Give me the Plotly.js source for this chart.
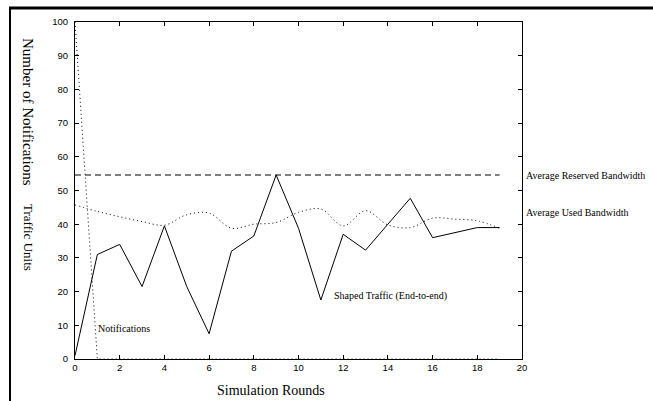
<!DOCTYPE html>
<html>
<head>
<meta charset="utf-8">
<script src="https://cdn.plot.ly/plotly-3.0.1.min.js"></script>
<style>html,body{margin:0;padding:0;background:#fff;}#chart{width:653px;height:401px;}</style>
</head>
<body>
<div id="chart"></div>
<script>
// ---- data ----
var rounds = [0,1,2,3,4,5,6,7,8,9,10,11,12,13,14,15,16,17,18,19];
var shapedTraffic = [1,31,34,21.5,39.5,21.5,7.5,32,36.5,54.6,38.8,17.5,37,32.3,40,47.7,36,37.5,39,39];
var usedBandwidth = [45.7,43.8,42.2,40.8,39.7,42.8,43.3,38.8,40,40.5,43.5,44.5,39.5,44,39.8,39,41.8,41.5,41,38.8];
var reservedBandwidth = [54.6,54.6,54.6,54.6,54.6,54.6,54.6,54.6,54.6,54.6,54.6,54.6,54.6,54.6,54.6,54.6,54.6,54.6,54.6,54.6];
var notifications = [100,0,0,0,0,0,0,0,0,0,0,0,0,0,0,0,0,0,0,0];
var xTicks = [0,2,4,6,8,10,12,14,16,18,20];
var yTicks = [0,10,20,30,40,50,60,70,80,90,100];
var labels = {
  xTitle: "Simulation Rounds",
  yTitleTop: "Number of Notifications",
  yTitleBottom: "Traffic Units",
  notif: "Notifications",
  shaped: "Shaped Traffic (End-to-end)",
  reserved: "Average Reserved Bandwidth",
  used: "Average Used Bandwidth"
};

// ---- layout geometry (pixels) ----
var W = 653, H = 401;
var L = 75, R = 522, T = 22, B = 359;
function px(x){ return (x - L) / (R - L); }
function py(y){ return (B - y) / (B - T); }

var serif = "Liberation Serif, Times New Roman, serif";
var sans = "Liberation Sans, Arial, sans-serif";

var traces = [
  {x: rounds, y: notifications, mode: 'lines', line: {color: '#000', width: 1, dash: '1px,3px'}, hoverinfo: 'skip'},
  {x: rounds, y: reservedBandwidth, mode: 'lines', line: {color: '#000', width: 1, dash: '6px,4px'}, hoverinfo: 'skip'},
  {x: rounds, y: usedBandwidth, mode: 'lines', line: {color: '#000', width: 1, dash: '1px,3px', shape: 'spline', smoothing: 1}, hoverinfo: 'skip'},
  {x: rounds, y: shapedTraffic, mode: 'lines', line: {color: '#000', width: 1}, hoverinfo: 'skip'}
];

function ann(text, x, y, opts){
  var a = {text: text, x: px(x), y: py(y), xref: 'paper', yref: 'paper', showarrow: false,
           xanchor: 'left', yanchor: 'middle', font: {family: serif, size: 10, color: '#000'}};
  for (var k in opts) a[k] = opts[k];
  return a;
}

var layout = {
  width: W, height: H,
  margin: {l: L, r: W - R, t: T, b: H - B, pad: 0},
  paper_bgcolor: '#fff', plot_bgcolor: '#fff',
  showlegend: false,
  xaxis: {range: [0, 20], tickvals: xTicks, ticktext: xTicks.map(String), ticks: 'inside', ticklen: 4,
          tickcolor: '#000', showline: true, linecolor: '#000', linewidth: 1, mirror: 'ticks',
          showgrid: false, zeroline: false, tickfont: {family: sans, size: 9.5, color: '#000'}, fixedrange: true},
  yaxis: {range: [0, 100], tickvals: yTicks, ticktext: yTicks.map(String), ticks: 'inside', ticklen: 4,
          tickcolor: '#000', showline: true, linecolor: '#000', linewidth: 1, mirror: 'ticks', ticklabelstandoff: 4,
          showgrid: false, zeroline: false, tickfont: {family: sans, size: 9.5, color: '#000'}, fixedrange: true},
  annotations: [
    ann(labels.xTitle, 270.5, 390, {xanchor: 'center', font: {family: serif, size: 14, color: '#000'}}),
    ann(labels.yTitleTop, 28, 112, {xanchor: 'center', textangle: 90, font: {family: serif, size: 15, color: '#000'}}),
    ann(labels.yTitleBottom, 28, 237, {xanchor: 'center', textangle: 90, font: {family: serif, size: 13, color: '#000'}}),
    ann(labels.notif, 96, 328),
    ann(labels.shaped, 332, 296),
    ann(labels.reserved, 524, 175),
    ann(labels.used, 524, 213)
  ],
  shapes: [
    {type: 'line', xref: 'paper', yref: 'paper', x0: px(9), x1: px(653), y0: py(8), y1: py(8), line: {color: '#000', width: 3}},
    {type: 'line', xref: 'paper', yref: 'paper', x0: px(10), x1: px(10), y0: py(7), y1: py(401), line: {color: '#000', width: 2}}
  ]
};

Plotly.newPlot('chart', traces, layout, {staticPlot: true, displayModeBar: false});
</script>
</body>
</html>
